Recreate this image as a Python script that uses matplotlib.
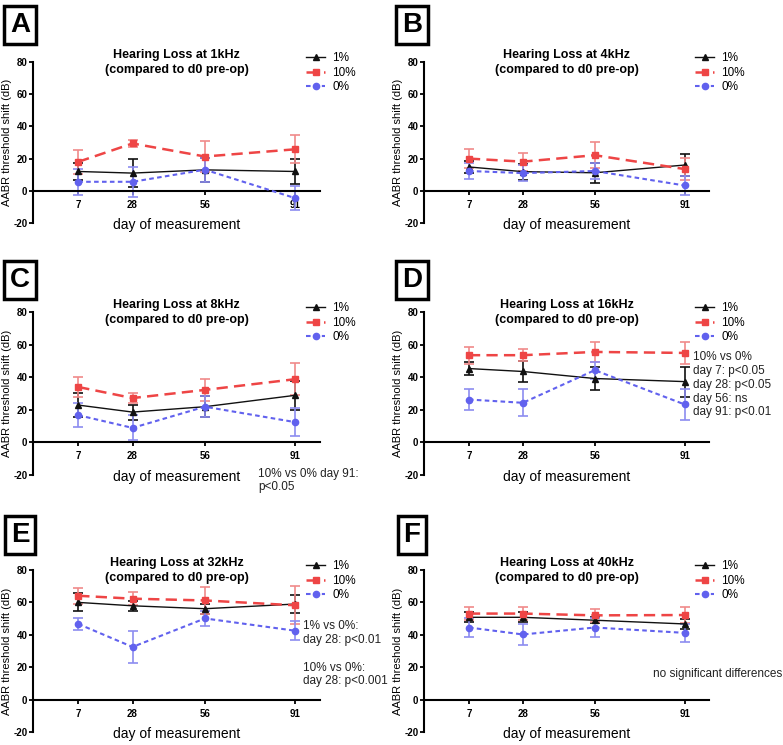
import numpy as np
import matplotlib
matplotlib.use("Agg")
import matplotlib.pyplot as plt

plt.rcParams["font.family"] = ["Liberation Sans", "DejaVu Sans"]
plt.rcParams["axes.unicode_minus"] = False

DAYS = [7, 28, 56, 91]
PANEL_LETTERS = ["A", "B", "C", "D", "E", "F"]
FREQS = ["1kHz", "4kHz", "8kHz", "16kHz", "32kHz", "40kHz"]
GROUP_LABELS = ["1%", "10%", "0%"]

# mean threshold shift (dB) and error, one row per panel, one column per day
ONE_PCT_MEAN = [
    [12, 11, 13, 12],
    [14.8, 11.9, 11.2, 16],
    [22.9, 18.6, 21.9, 28.9],
    [45.3, 43.5, 39.2, 37.3],
    [60, 57.9, 56.1, 59],
    [50.8, 50.8, 49, 46.7],
]
ONE_PCT_ERR = [
    [5, 8.5, 7.3, 8],
    [3.5, 5, 6.2, 6.7],
    [7.2, 4.6, 6.6, 9],
    [4, 6.6, 6.8, 9.2],
    [5.5, 3, 3, 5.6],
    [3, 3, 2, 3],
]
TEN_PCT_MEAN = [
    [18, 29.4, 21.3, 25.8],
    [20, 18.1, 22.1, 13.5],
    [34, 27.2, 32.2, 38.8],
    [53.5, 53.5, 55.5, 54.9],
    [64.1, 62.3, 61.2, 58.2],
    [53.1, 53.1, 52, 52.2],
]
TEN_PCT_ERR = [
    [7.5, 2.3, 9.5, 8.7],
    [6, 5.6, 8, 7],
    [6.4, 3.2, 7, 9.9],
    [5.3, 3.6, 6.3, 7],
    [5, 4, 8.6, 11.7],
    [4, 4, 4, 5],
]
ZERO_PCT_MEAN = [
    [5.6, 5.6, 13.1, -4.6],
    [12.3, 11, 12.3, 3.3],
    [16.7, 8.9, 21.9, 12.4],
    [26.3, 24.3, 44.3, 23.3],
    [46.7, 32.5, 50.1, 42.5],
    [44.5, 40.2, 44.5, 41.2],
]
ZERO_PCT_ERR = [
    [8, 9.2, 7.5, 7.3],
    [5, 5.2, 5, 6],
    [7.2, 7.7, 6.6, 8.4],
    [6.3, 8.3, 5.1, 9.3],
    [3.8, 10, 4.6, 5.8],
    [6, 6.3, 5.7, 5.4],
]

NOTES = {
    2: "10% vs 0% day 91:\np<0.05",
    3: "10% vs 0%\nday 7: p<0.05\nday 28: p<0.05\nday 56: ns\nday 91: p<0.01",
    4: "1% vs 0%:\nday 28: p<0.01\n\n10% vs 0%:\nday 28: p<0.001",
    5: "no significant differences",
}
NOTE_POS = {2: (0.785, 0.045, "top"), 3: (0.945, 0.76, "top"),
            4: (0.94, 0.69, "top"), 5: (0.805, 0.355, "center")}

RED = "#ee4545"
RED_ERR = "#f08a8a"
BLUE = "#6161ee"
BLUE_ERR = "#8c8cf0"
BLACK = "#111111"

W, H = 783, 745
fig = plt.figure(figsize=(W / 100, H / 100), dpi=100)

col_left = [33, 424]
col_width = [287, 285]
row_top = [62, 312, 570]
row_bot = [223, 475, 732]
letter_x = [20, 412]
letter_y = [25, 280, 535]

for i in range(6):
    r, c = divmod(i, 2)
    left = col_left[c] / W
    bottom = 1 - row_bot[r] / H
    height = (row_bot[r] - row_top[r]) / H
    ax = fig.add_axes([left, bottom, col_width[c] / W, height])

    series = [
        (ONE_PCT_MEAN[i], ONE_PCT_ERR[i], BLACK, BLACK, "-", "^", 1.0, 4),
        (TEN_PCT_MEAN[i], TEN_PCT_ERR[i], RED, RED_ERR, (0, (4.5, 2.5)), "s", 1.8, 4.5),
        (ZERO_PCT_MEAN[i], ZERO_PCT_ERR[i], BLUE, BLUE_ERR, (0, (2.2, 1.6)), "o", 1.5, 4.5),
    ]
    handles = []
    for (m, e, col, ecol, ls, mk, lw, ms), lab in zip(series, GROUP_LABELS):
        ax.errorbar(DAYS, m, yerr=e, fmt="none", ecolor=ecol, elinewidth=1.2,
                    capsize=3.5, capthick=1.2, zorder=2)
        h, = ax.plot(DAYS, m, color=col, linestyle=ls, linewidth=lw, marker=mk,
                     markersize=ms, label=lab, zorder=3)
        handles.append(h)

    ax.set_xlim(-10.5, 100.5)
    ax.set_ylim(-20, 80)
    ax.set_xticks(DAYS)
    ax.set_yticks([-20, 0, 20, 40, 60, 80])
    ax.spines["top"].set_visible(False)
    ax.spines["right"].set_visible(False)
    ax.spines["bottom"].set_position(("data", 0))
    ax.spines["bottom"].set_linewidth(1.5)
    ax.spines["left"].set_linewidth(1.5)
    ax.tick_params(axis="x", direction="out", length=3, width=1.3, pad=3.5, labelsize=7)
    ax.tick_params(axis="y", direction="out", length=3, width=1.3, pad=1, labelsize=7)
    for lbl in ax.get_xticklabels() + ax.get_yticklabels():
        lbl.set_fontweight("bold")
    ax.set_xlabel("day of measurement", fontsize=10)
    ax.xaxis.set_label_coords(0.5, 0.03)
    ax.set_ylabel("AABR threshold shift (dB)", fontsize=8)
    ax.yaxis.set_label_coords(-0.073, 0.5)
    ax.patch.set_alpha(0)

    ax.text(0.5, 0.995, "Hearing Loss at " + FREQS[i] + "\n(compared to d0 pre-op)",
            transform=ax.transAxes, ha="center", va="center", fontsize=9,
            fontweight="bold", linespacing=1.3)

    ax.legend(handles=handles, loc="upper left", bbox_to_anchor=(0.935, 1.09),
              frameon=False, fontsize=8.5, handlelength=1.6, handletextpad=0.6,
              labelspacing=0.22, borderaxespad=0)

    if i in NOTES:
        x, y, va = NOTE_POS[i]
        ax.text(x, y, NOTES[i], transform=ax.transAxes, ha="left", va=va,
                fontsize=8.5, color="#222222", linespacing=1.2, clip_on=False)

    fig.text(letter_x[c] / W, 1 - letter_y[r] / H, PANEL_LETTERS[i],
             fontsize=20, fontweight="bold", ha="center", va="center",
             bbox=dict(boxstyle="square,pad=0.2", fc="white", ec="black", lw=2.5))

fig.savefig("out.png", dpi=100)
